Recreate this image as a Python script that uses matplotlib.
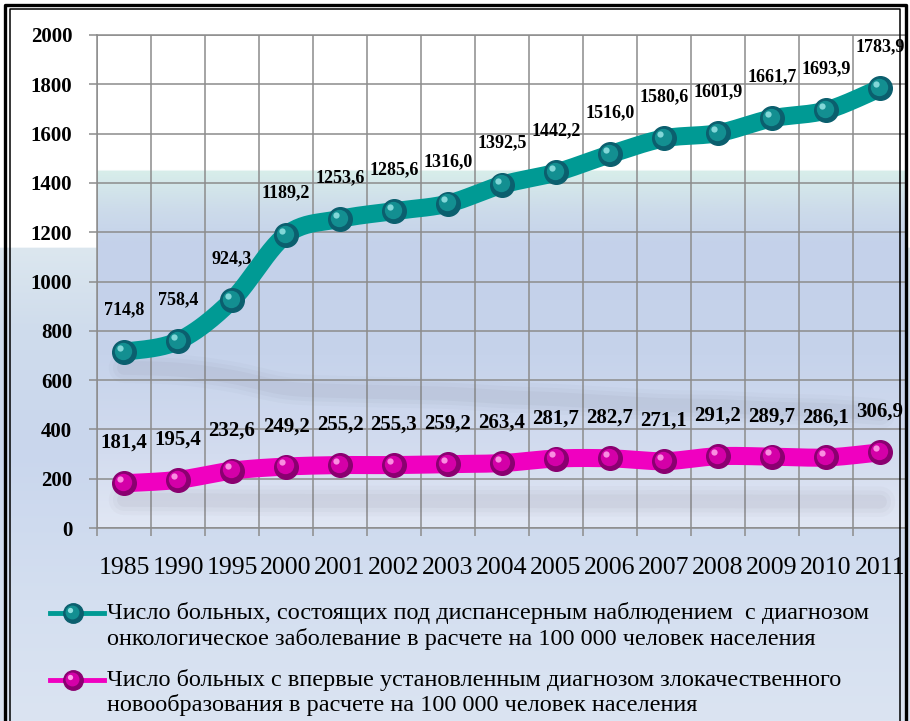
import numpy as np
import matplotlib
matplotlib.use("Agg")
import matplotlib.pyplot as plt
from matplotlib.colors import to_rgb
from matplotlib.lines import Line2D
from matplotlib import transforms

# ---------------- data ----------------
years = ["1985", "1990", "1995", "2000", "2001", "2002", "2003", "2004",
         "2005", "2006", "2007", "2008", "2009", "2010", "2011"]
followed_up = [714.8, 758.4, 924.3, 1189.2, 1253.6, 1285.6, 1316.0, 1392.5,
               1442.2, 1516.0, 1580.6, 1601.9, 1661.7, 1693.9, 1783.9]
newly_diagnosed = [181.4, 195.4, 232.6, 249.2, 255.2, 255.3, 259.2, 263.4,
                   281.7, 282.7, 271.1, 291.2, 289.7, 286.1, 306.9]
legend_labels = [
    "Число больных, состоящих под диспансерным наблюдением  с диагнозом\n"
    "онкологическое заболевание в расчете на 100 000 человек населения",
    "Число больных с впервые установленным диагнозом злокачественного\n"
    "новообразования в расчете на 100 000 человек населения",
]
yticks = [0, 200, 400, 600, 800, 1000, 1200, 1400, 1600, 1800, 2000]

SERIF = ["Liberation Serif", "DejaVu Serif"]
plt.rcParams["font.family"] = SERIF

W, H = 910, 721
fig = plt.figure(figsize=(W / 100, H / 100), dpi=100)

# ---------------- backgrounds ----------------
def gradient(stops, n):
    pos = np.array([s[0] for s in stops], dtype=float)
    cols = np.array([to_rgb(s[1]) for s in stops])
    t = np.linspace(pos[0], pos[-1], n)
    return np.stack([np.interp(t, pos, cols[:, k]) for k in range(3)], axis=1)

bg = fig.add_axes([0, 0, 1, 1], zorder=-10)
fig_stops = [(0, "#ffffff"), (247, "#ffffff"), (248, "#dce7ef"), (330, "#cfdcec"),
             (450, "#c9d6ed"), (600, "#d4dff0"), (721, "#dbe4f2")]
g = gradient(fig_stops, H)[:, None, :]
bg.imshow(g, aspect="auto", extent=(0, 1, 0, 1), origin="upper")
bg.set_axis_off()

ax = fig.add_axes([97 / W, 1 - 528 / H, (907 - 97) / W, (528 - 35) / H])
ax.set_facecolor("none")
plot_stops = [(0, "#e1e7f4"), (300, "#d3dcef"), (700, "#c6d3eb"), (1150, "#c4d1ea"),
              (1300, "#cddcea"), (1450, "#d8eeea"), (1452, "#ffffff"), (2000, "#ffffff")]
pg = gradient(plot_stops, 800)[:, None, :]
ax.imshow(pg, aspect="auto", extent=(-0.5, 14.5, 0, 2000), origin="lower", zorder=-1)

x = np.arange(len(years))

def smooth(xs, ys, n=24):
    pts = np.column_stack([xs, ys]).astype(float)
    P = np.vstack([pts[0], pts, pts[-1]])
    out = []
    t = np.linspace(0, 1, n, endpoint=False)[:, None]
    for i in range(1, len(P) - 2):
        p0, p1, p2, p3 = P[i - 1], P[i], P[i + 1], P[i + 2]
        seg = 0.5 * ((2 * p1) + (-p0 + p2) * t + (2 * p0 - 5 * p1 + 4 * p2 - p3) * t ** 2
                     + (-p0 + 3 * p1 - 3 * p2 + p3) * t ** 3)
        out.append(seg)
    out.append(pts[-1:])
    s = np.vstack(out)
    return s[:, 0], s[:, 1]

# faint floor shadows (decorative, derived from the data)
fy = np.array(followed_up)
ny = np.array(newly_diagnosed)
for arr, a, b in [(fy, 775, 0.175), (ny, 125, 0.06)]:
    sx, sy = smooth(x, a - b * arr)
    for lw, al in [(22, 0.03), (16, 0.04), (10, 0.05)]:
        ax.plot(sx, sy, color="#606070", lw=lw, alpha=al, solid_capstyle="round", zorder=2)

def sphere(ax, xs, ys, dark, mid, light):
    ax.plot(xs, ys, "o", ms=17, color=dark, mec=dark, zorder=6)
    tr = transforms.offset_copy(ax.transData, fig=fig, x=-0.9, y=0.9, units="points")
    ax.plot(xs, ys, "o", ms=12.5, color=mid, mec="none", transform=tr, zorder=7)
    tr2 = transforms.offset_copy(ax.transData, fig=fig, x=-2.6, y=3.0, units="points")
    ax.plot(xs, ys, "o", ms=4.5, color=light, mec="none", alpha=0.9, transform=tr2, zorder=8)

teal = "#009a94"
pink = "#f000c0"
sx, sy = smooth(x, followed_up)
ax.plot(sx, sy, color=teal, lw=13, solid_capstyle="round", zorder=5)
sphere(ax, x, followed_up, "#0b5f6e", "#138f91", "#8fe0e0")
sx, sy = smooth(x, newly_diagnosed)
ax.plot(sx, sy, color=pink, lw=13, solid_capstyle="round", zorder=5)
sphere(ax, x, newly_diagnosed, "#8a0070", "#d400a8", "#ff9ee8")

for i, v in enumerate(followed_up):
    ax.annotate(f"{v:.1f}".replace(".", ","), (i, v), xytext=(0, 30), textcoords="offset points",
                ha="center", va="center", fontsize=13, fontweight="bold", color="black",
                family=SERIF, zorder=9)
for i, v in enumerate(newly_diagnosed):
    ax.annotate(f"{v:.1f}".replace(".", ","), (i, v), xytext=(0, 29), textcoords="offset points",
                ha="center", va="center", fontsize=15, fontweight="bold", color="black",
                family=SERIF, zorder=9)

# ---------------- axes ----------------
grid_c = "#8c8c8c"
ax.set_xlim(-0.5, 14.5)
ax.set_ylim(0, 2000)
ax.set_yticks(yticks)
ax.set_yticklabels([str(t) for t in yticks], family=SERIF, fontweight="bold", fontsize=15)
ax.set_xticks(x)
ax.set_xticklabels(years, family=SERIF, fontsize=18.5)
ax.set_xticks(np.arange(-0.5, 15, 1), minor=True)
ax.tick_params(axis="x", which="major", length=0, pad=21)
ax.tick_params(axis="x", which="minor", length=5.8, direction="out", color=grid_c, width=1.1)
ax.tick_params(axis="y", length=5.8, direction="out", color=grid_c, width=1.1, pad=12)
ax.grid(True, axis="y", which="major", color=grid_c, lw=1.1)
ax.grid(True, axis="x", which="minor", color=grid_c, lw=1.1)
ax.set_axisbelow(True)
for side in ["left", "bottom", "top"]:
    ax.spines[side].set_color(grid_c)
    ax.spines[side].set_linewidth(1.1)
ax.spines["right"].set_visible(False)

# ---------------- legend ----------------
def px(xp, yp):
    return xp / W, 1 - yp / H

leg_rows = [(teal, ("#0b5f6e", "#138f91", "#8fe0e0"), 613),
            (pink, ("#8a0070", "#d400a8", "#ff9ee8"), 680)]
for (col, sc, yp), lab in zip(leg_rows, legend_labels):
    x0, y0 = px(50, yp)
    x1, _ = px(104, yp)
    xm, _ = px(73, yp)
    fig.add_artist(Line2D([x0, x1], [y0, y0], color=col, lw=3.5, transform=fig.transFigure))
    fig.add_artist(Line2D([xm], [y0], marker="o", ms=14, color=sc[0], mec=sc[0],
                          transform=fig.transFigure))
    fig.add_artist(Line2D([xm - 0.001], [y0 + 0.0013], marker="o", ms=10, color=sc[1], mec="none",
                          transform=fig.transFigure))
    fig.add_artist(Line2D([xm - 0.003], [y0 + 0.0045], marker="o", ms=3.8, color=sc[2], mec="none",
                          transform=fig.transFigure))
    lines = lab.split("\n")
    for k, ln in enumerate(lines):
        tx, ty = px(107, yp + k * 25.5)
        fig.text(tx, ty, ln, ha="left", va="center", fontsize=17.5, color="black", family=SERIF)

# ---------------- frame ----------------
def fline(xs, ys, lw):
    fig.add_artist(Line2D([a / W for a in xs], [1 - b / H for b in ys], color="black", lw=lw,
                          transform=fig.transFigure, solid_capstyle="projecting"))

fline([5, 5, 906, 906], [H, 4.5, 4.5, H], 2.4)
fline([9.5, 9.5, 900, 900], [H, 8.5, 8.5, H], 1.1)

fig.savefig("out.png", dpi=100)
